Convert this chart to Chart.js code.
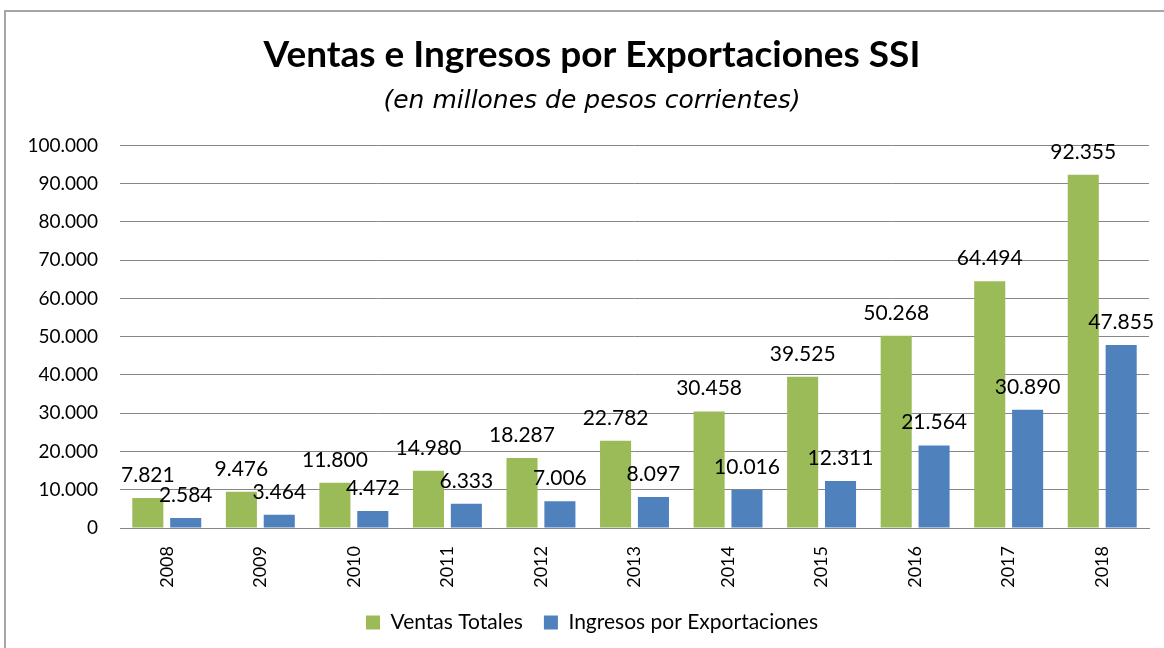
<!DOCTYPE html>
<html>
<head>
<meta charset="utf-8">
<script src="https://cdn.jsdelivr.net/npm/chart.js@4.4.0/dist/chart.umd.min.js"></script>
<style>
    html, body { margin: 0; padding: 0; background: #ffffff; overflow: hidden; }
    .frame {
        position: absolute; left: 4px; top: 10px; width: 1300px; height: 800px;
        border-left: 2px solid #a6a6a6; border-top: 2px solid #a6a6a6;
    }
    /* the chart runs a little past the right edge of the window, like the cropped original */
    .chart-container { position: absolute; left: 0; top: 0; width: 1180px; height: 648px; }
</style>
</head>
<body>
<div class="frame"></div>
<div class="chart-container">
    <canvas id="barChart" width="1180" height="648"></canvas>
</div>
<script>
// Data
const years = ['2008', '2009', '2010', '2011', '2012', '2013', '2014', '2015', '2016', '2017', '2018'];
const ventasTotales = [7821, 9476, 11800, 14980, 18287, 22782, 30458, 39525, 50268, 64494, 92355];
const ingresosExport = [2584, 3464, 4472, 6333, 7006, 8097, 10016, 12311, 21564, 30890, 47855];

const GREEN = '#9bbb59';
const BLUE = '#4f81bd';
const FONT = 'Lato, "Open Sans", sans-serif';

//Spanish number format: 12.345
function fmt(v) {
    return String(v).replace(/\B(?=(\d{3})+(?!\d))/g, '.');
}

//Draws the value above each bar
const valueLabels = {
    id: 'valueLabels',
    afterDatasetsDraw(chart) {
        var ctx = chart.ctx;
        ctx.save();
        ctx.font = '21px ' + FONT;
        ctx.fillStyle = '#000000';
        ctx.textAlign = 'center';
        ctx.textBaseline = 'alphabetic';
        chart.data.datasets.forEach(function (ds, i) {
            var meta = chart.getDatasetMeta(i);
            meta.data.forEach(function (bar, j) {
                ctx.fillText(fmt(ds.data[j]), bar.x, bar.y - 16);
            });
        });
        ctx.restore();
    }
};

Chart.defaults.font.family = FONT;
Chart.defaults.color = '#000000';

var ctx = document.getElementById('barChart').getContext('2d');
var myChart = new Chart(ctx, {
    type: 'bar',
    data: {
        labels: years,
        datasets: [
            {
                label: 'Ventas Totales',
                data: ventasTotales,
                backgroundColor: GREEN,
                barPercentage: 0.82,
                categoryPercentage: 0.81
            },
            {
                label: 'Ingresos por Exportaciones',
                data: ingresosExport,
                backgroundColor: BLUE,
                barPercentage: 0.82,
                categoryPercentage: 0.81
            }
        ]
    },
    options: {
        responsive: false,
        animation: false,
        layout: { padding: { left: 8, right: 4, top: 0, bottom: 5 } },
        plugins: {
            title: {
                display: true,
                text: 'Ventas e Ingresos por Exportaciones SSI',
                font: { size: 37, weight: 'bold' },
                padding: { top: 33, bottom: 4 }
            },
            subtitle: {
                display: true,
                text: '(en millones de pesos corrientes)',
                font: { family: '"DejaVu Sans", sans-serif', size: 25, style: 'italic' },
                padding: { top: 5, bottom: 29 }
            },
            legend: {
                position: 'bottom',
                labels: {
                    boxWidth: 14,
                    boxHeight: 14,
                    font: { size: 21 },
                    padding: 21
                }
            },
            tooltip: { enabled: false }
        },
        scales: {
            x: {
                grid: { display: false },
                border: { color: '#868686' },
                ticks: {
                    font: { size: 18 },
                    maxRotation: 90,
                    minRotation: 90,
                    padding: 10
                },
                afterFit: function (scale) { scale.height = 63; }
            },
            y: {
                min: 0,
                max: 100000,
                grid: { color: '#868686', drawTicks: false },
                border: { display: false },
                ticks: {
                    stepSize: 10000,
                    font: { size: 19 },
                    padding: 22,
                    callback: function (v) { return fmt(v); }
                },
                afterFit: function (scale) { scale.width = 112; }
            },
            // empty right-hand margin of the original plot
            yRight: {
                position: 'right',
                grid: { display: false },
                border: { display: false },
                ticks: { display: false },
                afterFit: function (scale) { scale.width = 27; }
            }
        }
    },
    plugins: [valueLabels]
});
</script>
</body>
</html>
